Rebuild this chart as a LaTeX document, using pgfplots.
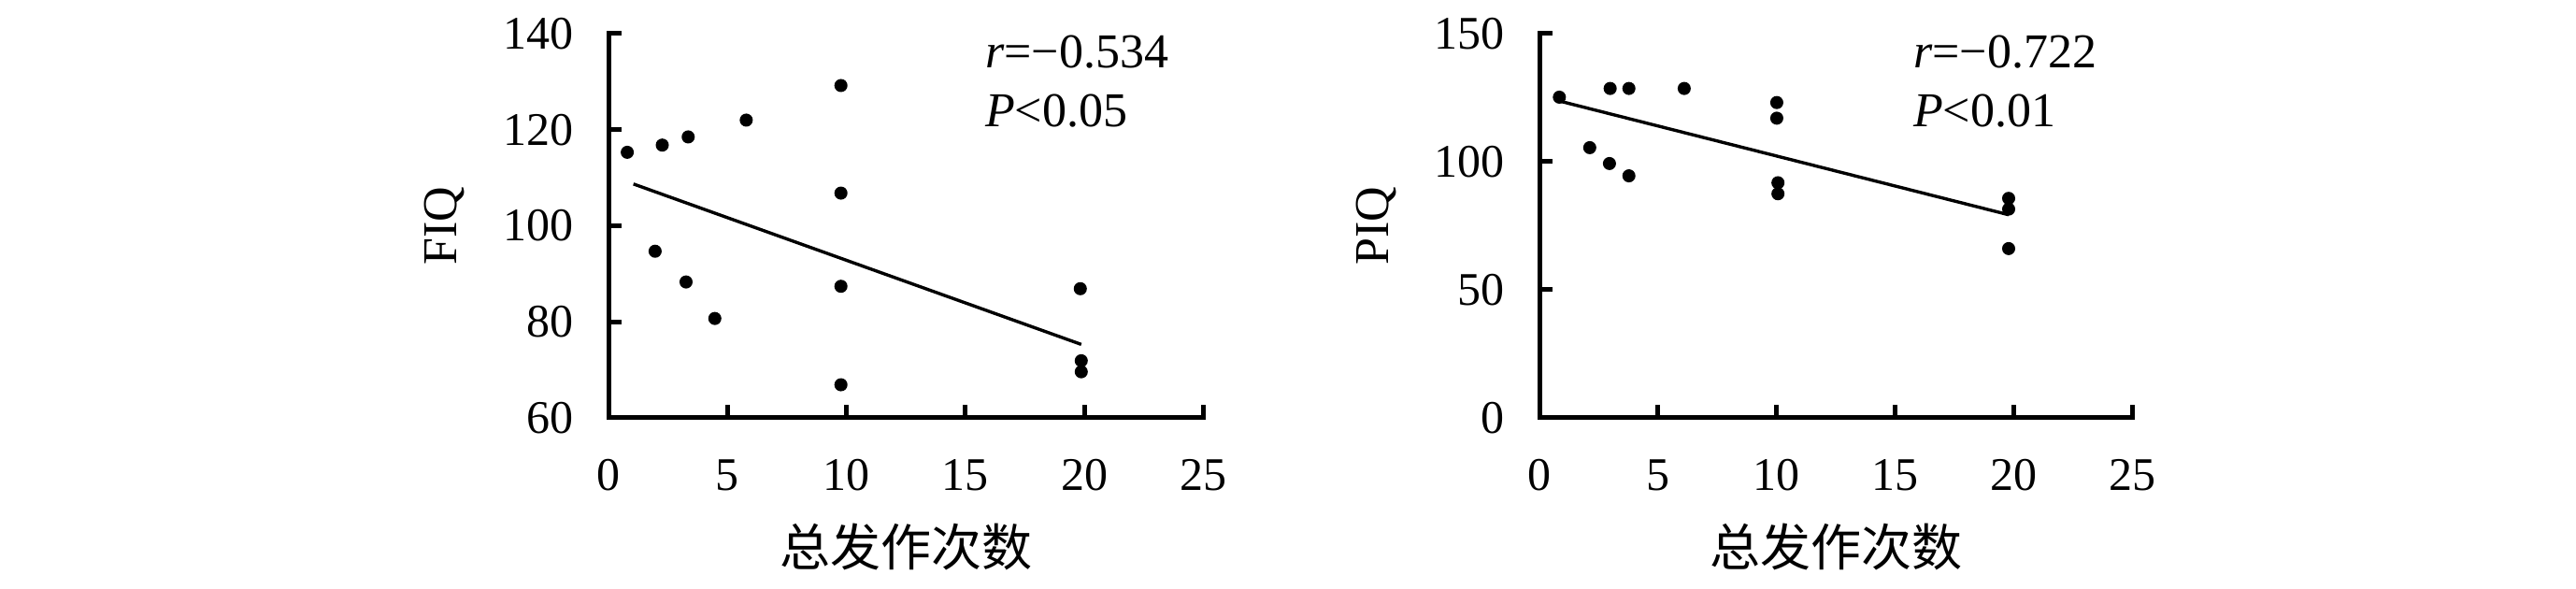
\documentclass[border=0pt]{standalone}
\usepackage{fontspec}
\setmainfont{Liberation Serif}
\newfontfamily\cjk{Noto Sans CJK SC}
\usepackage{pgfplots}
\pgfplotsset{compat=1.18}
\tikzset{ann/.style={anchor=base west, inner sep=0pt, font=\fontsize{13}{15}\selectfont}}
\pgfplotsset{
  myax/.style={
    scale only axis, height=102.75pt,
    axis x line=bottom, axis y line=left,
    axis line style={-, line width=1.25pt, line cap=rect},
    every tick/.style={black, line width=1.25pt},
    tick align=inside, major tick length=3.4pt,
    xmin=0, xmax=25, xtick={0,5,10,15,20,25},
    tick label style={font=\fontsize{12.5}{14}\selectfont},
    /pgf/number format/assume math mode=true,
    xticklabel style={anchor=base, yshift=-19.5pt},
    yticklabel style={anchor=east, xshift=-5.8pt},
    xlabel={\cjk 总发作次数},
    xlabel style={font=\fontsize{13.5}{16}\selectfont, at={(axis description cs:0.5,-0.386)}, anchor=base},
    ylabel style={font=\fontsize{13}{15}\selectfont, at={(axis description cs:-0.255,0.5)}, anchor=base},
    clip=false,
  },
}
\begin{document}
\begin{tikzpicture}
\useasboundingbox (0,0) rectangle (689pt,157.5pt);
\begin{axis}[myax, at={(162.75pt,45.75pt)}, anchor=south west, width=159.1pt,
  ymin=60, ymax=140, ytick={60,80,100,120,140}, ylabel={FIQ}]
\addplot[only marks, mark=*, mark size=1.55pt, black] coordinates {
(0.79,115.3) (2.26,116.8) (3.35,118.5) (5.79,122.0) (9.77,129.2) (9.77,106.8)
(1.96,94.7) (3.26,88.3) (4.47,80.7) (9.77,87.4) (9.77,66.9)
(19.83,86.9) (19.87,71.9) (19.87,69.6)};
\addplot[black, line width=0.85pt] coordinates {(1.05,108.7) (19.87,75.3)};
\node[ann] at (axis description cs:0.632,0.910) {\textit{r}=−0.534};
\node[ann] at (axis description cs:0.632,0.759) {\textit{P}<0.05};
\end{axis}
\begin{axis}[myax, at={(411.75pt,45.75pt)}, anchor=south west, width=158.7pt,
  ymin=0, ymax=150, ytick={0,50,100,150}, ylabel={PIQ}]
\addplot[only marks, mark=*, mark size=1.55pt, black] coordinates {
(0.84,125.2) (2.98,128.6) (3.77,128.6) (6.1,128.6) (10.0,123.1) (10.0,117.0)
(2.12,105.5) (2.95,99.3) (3.77,94.5) (10.05,91.8) (10.05,87.5)
(19.77,85.7) (19.77,81.5) (19.77,66.1)};
\addplot[black, line width=0.85pt] coordinates {(0.84,123.7) (19.77,79.3)};
\node[ann] at (axis description cs:0.629,0.910) {\textit{r}=−0.722};
\node[ann] at (axis description cs:0.629,0.759) {\textit{P}<0.01};
\end{axis}
\end{tikzpicture}
\end{document}
